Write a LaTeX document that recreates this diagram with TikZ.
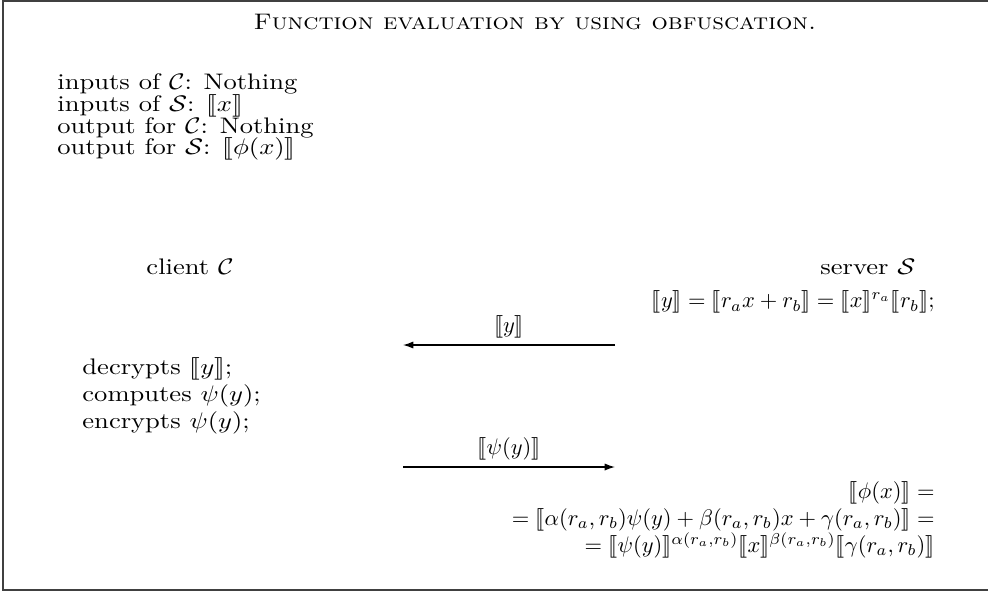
\documentclass[tikz,border=0pt]{standalone}
\usepackage{amsmath,amssymb,stmaryrd,graphicx}
\usetikzlibrary{arrows.meta,positioning,calc}
\newcommand{\Enc}[1]{\llbracket #1\rrbracket}
\newcommand{\Cl}{\mathcal{C}}
\newcommand{\Sv}{\mathcal{S}}
\newcommand{\wtxt}[2][1.18]{\scalebox{#1}[1]{#2}}

\begin{document}
\begin{tikzpicture}[x=0.4444pt,y=-0.4444pt,
  every node/.style={inner sep=0pt},
  lines/.style={align=left,font=\linespread{0.81}\selectfont},
  rlines/.style={align=right},
  msg/.style={-{Latex[length=4.6pt,width=3.2pt]},line width=0.55pt},
  frame/.style={draw=black!75,line width=0.9pt}]
  \useasboundingbox (0,0) rectangle (988,591);
  \draw[frame] (995,1)--(3,1)--(3,590)--(995,590);
  \node (title) at (535,22) {\wtxt[1.14]{\textsc{Function evaluation by using obfuscation.}}};
  \node[lines,anchor=north west] (spec) at (57,73)
    {\wtxt{inputs of $\Cl$: Nothing}\\\wtxt{inputs of $\Sv$: $\Enc{x}$}\\
     \wtxt{output for $\Cl$: Nothing}\\\wtxt{output for $\Sv$: $\Enc{\phi(x)}$}};
  \node (client) at (190,267) {\wtxt{client $\Cl$}};
  \node (server) at (868,267) {\wtxt{server $\Sv$}};
  \node[anchor=east] (blind) at (935,302)
    {$\Enc{y}=\Enc{r_ax+r_b}=\Enc{x}^{r_a}\Enc{r_b}$;};
  \coordinate (s1) at (615,345);
  \coordinate (c1) at (403,345);
  \node[align=left,anchor=north west] (work) at (82,357)
    {\wtxt{decrypts $\Enc{y}$;}\\\wtxt{computes $\psi(y)$;}\\\wtxt{encrypts $\psi(y)$;}};
  \coordinate (c2) at (403,467);
  \coordinate (s2) at (615,467);
  \node[rlines,anchor=north east] (result) at (935,481)
    {$\Enc{\phi(x)}=$\\
     $=\Enc{\alpha(r_a,r_b)\psi(y)+\beta(r_a,r_b)x+\gamma(r_a,r_b)}=$\\
     $=\Enc{\psi(y)}^{\alpha(r_a,r_b)}\Enc{x}^{\beta(r_a,r_b)}\Enc{\gamma(r_a,r_b)}$};
  \draw[msg] (s1) -- node[above=3pt] (m1) {$\Enc{y}$} (c1);
  \draw[msg] (c2) -- node[above=3pt] (m2) {$\Enc{\psi(y)}$} (s2);
\end{tikzpicture}
\end{document}
